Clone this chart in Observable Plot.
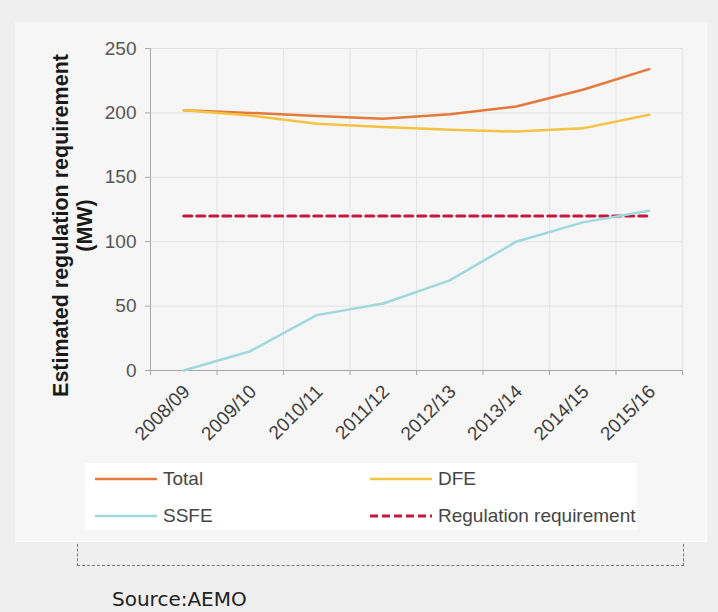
<!DOCTYPE html>
<html><head><meta charset="utf-8">
<script src="https://cdn.jsdelivr.net/npm/d3@7"></script>
<script src="https://cdn.jsdelivr.net/npm/@observablehq/plot@0.6"></script>
<style>
body{margin:0;background:#efefef;}
#wrap{position:relative;width:718px;height:612px;background:#efefef;overflow:hidden;font-family:"Liberation Sans",Arial,sans-serif;}
#dots{position:absolute;left:77px;top:520px;width:605px;height:44px;border:1px dashed #7a7a7a;}
#panel{position:absolute;left:15px;top:22px;width:691px;height:519px;background:#f6f6f6;border-right:1px solid #fcfcfc;border-bottom:1px solid #fdfdfd;}
#chart{position:absolute;left:0;top:0;}
#legend{position:absolute;left:85px;top:463px;width:552px;height:67px;background:#ffffff;}
.item{position:absolute;height:20px;}
.item svg{position:absolute;left:0;top:0;}
.item span{position:absolute;top:0;font-size:19px;line-height:20px;color:#454545;white-space:nowrap;}
#source{position:absolute;left:112px;top:588px;font-family:"DejaVu Sans",sans-serif;font-size:20px;line-height:22px;color:#222;}
</style>
</head><body>
<div id="wrap">
  <div id="dots"></div>
  <div id="panel"></div>
  <div id="chart"></div>
  <div id="legend"></div>
  <div id="source">Source:AEMO</div>
</div>
<script>
const categories = ["2008/09","2009/10","2010/11","2011/12","2012/13","2013/14","2014/15","2015/16"];
const total = [202, 200, 197.5, 195.5, 199, 205, 218, 234];
const dfe = [202, 198, 191.5, 189, 187, 185.5, 188, 198.5];
const ssfe = [0, 15, 43, 52, 70, 100, 115, 124];
const regulation = [120, 120, 120, 120, 120, 120, 120, 120];
const yTicks = [0, 50, 100, 150, 200, 250];
const seriesNames = ["Total", "DFE", "SSFE", "Regulation requirement"];
const seriesColors = ["#e5783a", "#f5c242", "#9fd8dd", "#c8173f"];
const yTitle = "Estimated regulation requirement\n(MW)";

const seriesValues = [total, dfe, ssfe, regulation];
const rows = seriesNames.flatMap((s, k) => seriesValues[k].map((v, i) => ({series: s, i, value: v})));
const idx = categories.map((_, i) => i);
const bounds = d3.range(categories.length + 1).map(i => i - 0.5);
const solid = rows.filter(d => d.series !== "Regulation requirement");
const dashed = rows.filter(d => d.series === "Regulation requirement");

const chart = Plot.plot({
  width: 718, height: 460,
  marginLeft: 150, marginRight: 36, marginTop: 48, marginBottom: 90,
  style: {background: "transparent", fontFamily: "Liberation Sans, Arial, sans-serif"},
  x: {domain: [bounds[0], bounds[bounds.length - 1]]},
  y: {domain: [0, 250]},
  color: {domain: seriesNames, range: seriesColors},
  marks: [
    Plot.ruleY(yTicks.slice(1), {stroke: "#e3e3e3"}),
    Plot.ruleX(bounds.slice(1), {stroke: "#e3e3e3"}),
    Plot.ruleX([bounds[0]], {stroke: "#a8a8a8"}),
    Plot.ruleY([0], {stroke: "#a8a8a8"}),
    Plot.axisY({ticks: yTicks, tickSize: 5, tickPadding: 9, fontSize: 19, fill: "#555", stroke: "#a8a8a8", label: null}),
    Plot.axisX({ticks: bounds, tickSize: 5, tickFormat: () => "", stroke: "#a8a8a8", label: null}),
    Plot.axisX({ticks: idx, tickSize: 0, tickRotate: -45, tickPadding: 18, dx: 3, tickFormat: i => categories[i], fontSize: 19, fill: "#3c3c3c", label: null}),
    Plot.text([yTitle], {frameAnchor: "left", rotate: -90, dx: -78, dy: 16, fontSize: 21.5, fontWeight: "bold", fill: "#1a1a1a", lineAnchor: "middle", textAnchor: "middle", lineHeight: 1.1}),
    Plot.line(dashed, {x: "i", y: "value", stroke: "series", strokeWidth: 3, strokeDasharray: "8,5"}),
    Plot.line(solid, {x: "i", y: "value", z: "series", stroke: "series", strokeWidth: 2.5, curve: "linear"})
  ]
});
document.getElementById("chart").appendChild(chart);

// legend
const legend = document.getElementById("legend");
const pos = [[10, 6], [285, 6], [10, 43], [285, 43]];
const order = ["Total", "DFE", "SSFE", "Regulation requirement"];
order.forEach((name, k) => {
  const c = seriesColors[seriesNames.indexOf(name)];
  const [lx, ly] = pos[k];
  const div = document.createElement("div");
  div.className = "item";
  div.style.left = lx + "px";
  div.style.top = ly + "px";
  const dash = name === "Regulation requirement" ? 'stroke-dasharray="8,4"' : "";
  const sw = name === "Regulation requirement" ? 3 : 2.5;
  div.innerHTML = `<svg width="64" height="20"><line x1="0" x2="62" y1="10" y2="10" stroke="${c}" stroke-width="${sw}" ${dash}/></svg><span style="left:68px">${name}</span>`;
  legend.appendChild(div);
});
</script>
</body></html>
